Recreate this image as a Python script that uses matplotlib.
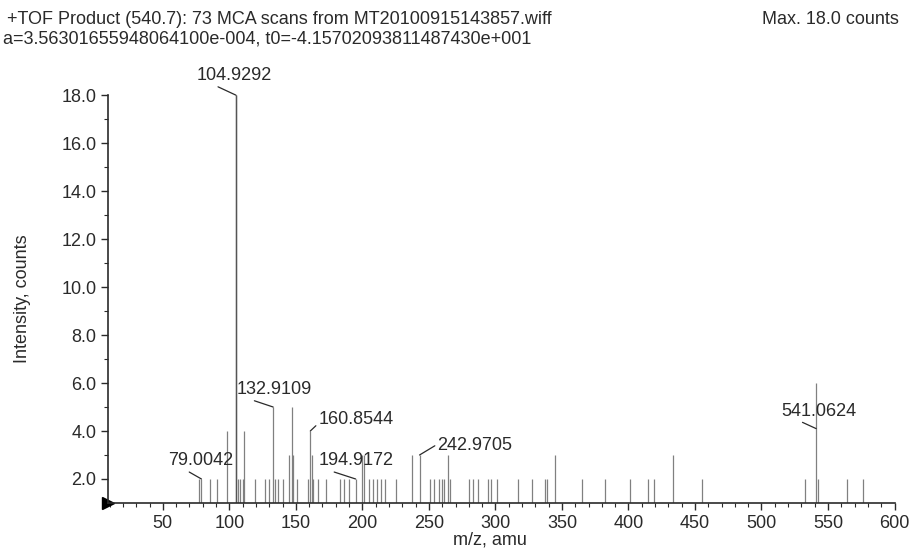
import matplotlib.pyplot as plt
from matplotlib.ticker import MultipleLocator, FormatStrFormatter

plt.rcParams['font.family'] = ['Liberation Sans', 'DejaVu Sans']

# peak list (m/z, counts)
mz = [77.0, 79.0, 85.5, 91.0, 98.6, 104.9292, 106.5, 108.0, 110.0, 111.2,
      119.0, 127.0, 129.5, 132.9109, 134.5, 136.5, 140.0, 144.8, 146.9, 148.2,
      151.0, 159.3, 160.8544, 162.0, 163.2, 166.5, 172.5, 183.5, 186.0, 190.0,
      194.9172, 199.5, 201.5, 205.0, 208.0, 211.0, 214.0, 217.0, 225.0, 237.5,
      242.9705, 251.0, 253.5, 257.5, 259.5, 261.5, 264.0, 266.0, 280.0, 283.5,
      287.0, 294.5, 296.5, 301.5, 317.0, 327.5, 337.5, 339.0, 345.0, 365.0,
      382.5, 401.0, 414.5, 419.0, 433.5, 455.0, 533.0, 541.0624, 542.5, 564.5,
      576.5]
counts = [2, 2, 2, 2, 4, 18, 2, 2, 2, 4,
          2, 2, 2, 5, 2, 2, 2, 3, 5, 3,
          2, 2, 4, 3, 2, 2, 2, 2, 2, 2,
          2, 3, 3, 2, 2, 2, 2, 2, 2, 3,
          3, 2, 2, 2, 2, 2, 3, 2, 2, 2,
          2, 2, 2, 2, 2, 2, 2, 2, 3, 2,
          2, 2, 2, 2, 3, 2, 2, 6, 2, 2,
          2]

# labelled peaks: m/z, height where the leader ends
label_mz = [104.9292, 132.9109, 160.8544, 79.0042, 194.9172, 242.9705, 541.0624]
label_y = [18.0, 5.0, 4.0, 2.0, 2.0, 3.0, 4.1]
# text offset (points) and where the leader leaves the text box
label_off = [(-28, 8), (-26, 6.5), (6, 2), (-24, 7), (-27, 7), (13, 0.5), (-25, 6.5)]
label_rel = [(0.2, 0), (0.12, 0), (0, 0.3), (0.25, 0), (0.03, 0.1), (0, 0.6), (0.2, 0)]

fig = plt.figure(figsize=(9.1, 5.5), dpi=100)
ax = fig.add_axes([0.119, 0.0855, 0.864, 0.7415])

ink = '#2a2a2a'
fs = 13
ax.vlines(mz, 1.0, counts, color='#808080', lw=0.9)
ax.vlines([104.9292], 1.0, [18], color='#555555', lw=1.0)
ax.plot([9], [1.0], marker='>', color='black', ms=8, clip_on=False)

for m, h, off, rp in zip(label_mz, label_y, label_off, label_rel):
    ax.annotate('%.4f' % m, xy=(m, h), xytext=off, textcoords='offset points',
                fontsize=fs, color=ink, ha='left', va='bottom',
                arrowprops=dict(arrowstyle='-', color=ink, lw=0.9,
                                shrinkA=0, shrinkB=0, relpos=rp))

ax.set_xlim(9, 600)
ax.set_ylim(1.0, 18.0)
ax.xaxis.set_major_locator(MultipleLocator(50))
ax.xaxis.set_minor_locator(MultipleLocator(10))
ax.yaxis.set_major_locator(MultipleLocator(2))
ax.yaxis.set_minor_locator(MultipleLocator(1))
ax.yaxis.set_major_formatter(FormatStrFormatter('%.1f'))
ax.set_xticks(range(50, 601, 50))

for s in ['top', 'right']:
    ax.spines[s].set_visible(False)
for s in ['left', 'bottom']:
    ax.spines[s].set_color(ink)
    ax.spines[s].set_linewidth(1.2)
ax.tick_params(which='major', length=5, width=1, colors=ink, labelsize=fs, direction='out')
ax.tick_params(which='minor', length=3, width=0.8, colors=ink, direction='out')

ax.set_xlabel('m/z, amu', fontsize=fs, color=ink)
ax.xaxis.set_label_coords(0.486, -0.069)
ax.set_ylabel('Intensity, counts', fontsize=fs, color=ink, labelpad=22)

fig.text(0.008, 0.98, '+TOF Product (540.7): 73 MCA scans from MT20100915143857.wiff',
         fontsize=fs, color=ink, va='top', ha='left')
fig.text(0.003, 0.944, 'a=3.56301655948064100e-004, t0=-4.15702093811487430e+001',
         fontsize=fs, color=ink, va='top', ha='left')
fig.text(0.988, 0.98, 'Max. 18.0 counts', fontsize=fs, color=ink, va='top', ha='right')

fig.savefig('out.png', dpi=100)
